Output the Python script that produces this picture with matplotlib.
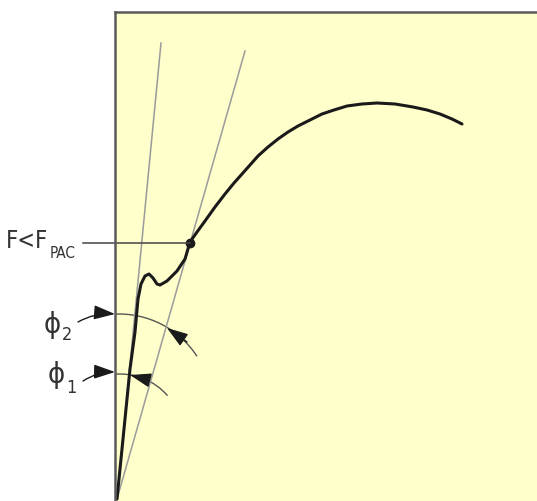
import matplotlib
matplotlib.use("Agg")
import matplotlib.pyplot as plt
from matplotlib.patches import Arc

# force-deformation curve (origin at the lower left corner)
curve_x = [0, 5, 9, 13, 18, 21, 24, 28, 32, 36, 40, 43, 50, 60, 68, 73,
           80, 88, 98, 108, 117, 125, 133, 141, 151, 161, 171, 181, 193,
           205, 217, 230, 245, 260, 278, 296, 310, 323, 335, 345]
curve_y = [0, 50, 90, 130, 167, 200, 215, 223, 225, 221, 215, 214, 218, 228,
           240, 257, 267, 278, 292, 305, 316, 325, 334, 343, 352, 360, 367,
           373, 379, 385, 389, 393, 395, 396, 395, 392, 389, 385, 380, 375]

# the two secant lines through the origin
line1_end = (44, 456)
line2_end = (128, 448)

# point where F < F_PAC
pac_point = (73, 256)

plt.rcParams['font.family'] = ['DejaVu Sans']

W, H = 537, 502
fig = plt.figure(figsize=(W / 100, H / 100), dpi=100)
fig.patch.set_facecolor('white')

# axes box starts at px 115 (left) and 13 (top), runs off right and bottom
ax = fig.add_axes([115 / W, 0, 430 / W, 489 / H])
ax.set_xlim(-2, 428)
ax.set_ylim(-2, 487)
ax.set_facecolor('#FFFFCC')
ax.set_xticks([])
ax.set_yticks([])
for side in ['right', 'bottom']:
    ax.spines[side].set_visible(False)
for side in ['left', 'top']:
    ax.spines[side].set_color('#5a5a5a')
    ax.spines[side].set_linewidth(1.8)

ink = '#1a1a1a'
grey = '#9a9a9a'
txt = '#333333'

# secant lines
ax.plot([0, line1_end[0]], [0, line1_end[1]], color=grey, lw=1.1)
ax.plot([0, line2_end[0]], [0, line2_end[1]], color=grey, lw=1.1)

# main curve
ax.plot(curve_x, curve_y, color=ink, lw=2.2, solid_joinstyle='round',
        solid_capstyle='round')

# marked point and its leader
ax.plot(*pac_point, 'o', ms=6, color=ink)
ax.plot([-34, pac_point[0]], [pac_point[1], pac_point[1]], color='#444444',
        lw=1.1, clip_on=False)
ax.text(-69, 252, 'F<F', fontsize=17, fontstretch='condensed', color=txt,
        ha='right', va='baseline')
ax.text(-67, 242, 'PAC', fontsize=11, fontstretch='condensed', color=txt,
        ha='left', va='baseline')

# angle arcs
arc_col = '#555555'
ax.add_patch(Arc((2, 92), 186, 186, theta1=33, theta2=93, color=arc_col, lw=1.0))
ax.add_patch(Arc((3, 62), 126, 126, theta1=41, theta2=95, color=arc_col, lw=1.0))

head = '-|>,head_length=0.65,head_width=0.22'

def arrow(tip, tail, rad=0.0):
    ax.annotate('', xy=tip, xytext=tail, annotation_clip=False,
                arrowprops=dict(arrowstyle=head, mutation_scale=20, color=ink,
                                lw=1.0, shrinkA=0, shrinkB=0,
                                connectionstyle=f'arc3,rad={rad}'))

# phi2: from label to the axis, and back onto line 2
arrow((-2, 185), (-39, 177), rad=-0.15)
arrow((50, 171), (70, 157))
# phi1
arrow((-2, 127), (-34, 118), rad=-0.15)
arrow((13, 124), (32, 119))

ax.text(-56, 167, 'ϕ', fontsize=21, fontstretch='condensed', color=txt,
        ha='right', va='baseline')
ax.text(-55, 160, '2', fontsize=13, fontstretch='condensed', color=txt,
        ha='left', va='baseline')
ax.text(-52, 117, 'ϕ', fontsize=21, fontstretch='condensed', color=txt,
        ha='right', va='baseline')
ax.text(-51, 107, '1', fontsize=13, fontstretch='condensed', color=txt,
        ha='left', va='baseline')

fig.savefig('out.png', dpi=100, facecolor='white')
